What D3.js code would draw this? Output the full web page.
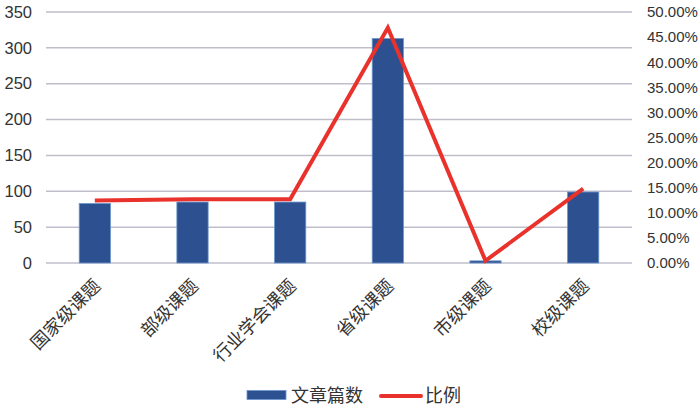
<!DOCTYPE html>
<html><head><meta charset="utf-8">
<script src="https://cdn.jsdelivr.net/npm/d3@7/dist/d3.min.js"></script>
<style>body{margin:0;background:#fff}svg{display:block}</style>
</head><body><svg id="c" width="700" height="409"></svg>
<script>
const categories = ["国家级课题","部级课题","行业学会课题","省级课题","市级课题","校级课题"];
const articleCounts = [83, 85, 85, 313, 3, 99];
const ratios = [0.1243, 0.1272, 0.1272, 0.4686, 0.0045, 0.1482];
const leftTicks = [0,50,100,150,200,250,300,350];
const rightTicks = [0,0.05,0.10,0.15,0.20,0.25,0.30,0.35,0.40,0.45,0.50];
const legendLabels = ["文章篇数","比例"];

const svg = d3.select("#c");
const L = 46, R = 632, T = 12, B = 263;
const font = "'Liberation Sans', Arial, sans-serif";
const cjk = "'Noto Sans CJK SC', sans-serif";

const x = d3.scaleBand().domain(categories).range([L, R]).paddingInner(0.68).paddingOuter(0.34);
const yL = d3.scaleLinear().domain([0,350]).range([B, T]);
const yR = d3.scaleLinear().domain([0,0.5]).range([B, T]);

// gridlines
svg.append("g").selectAll("line").data(leftTicks).join("line")
  .attr("x1", L).attr("x2", R).attr("y1", d=>yL(d)).attr("y2", d=>yL(d))
  .attr("stroke", "#bfbfcc").attr("stroke-width", 1.5);

// left axis
const gl = svg.append("g").attr("transform", `translate(${L},0)`)
  .call(d3.axisLeft(yL).tickValues(leftTicks).tickSize(0).tickPadding(14));
gl.select(".domain").remove();
gl.selectAll("text").attr("font-family", font).attr("font-size", 16.5).attr("fill", "#333");

// right axis
const gr = svg.append("g").attr("transform", `translate(${R},0)`)
  .call(d3.axisRight(yR).tickValues(rightTicks).tickSize(0).tickPadding(15).tickFormat(d=>(d*100).toFixed(2)+"%"));
gr.select(".domain").remove();
gr.selectAll("text").attr("font-family", font).attr("font-size", 15).attr("fill", "#333");

// bars
svg.append("g").selectAll("rect").data(categories).join("rect")
  .attr("x", d=>x(d)).attr("width", x.bandwidth())
  .attr("y", (d,i)=>yL(articleCounts[i])).attr("height", (d,i)=>B - yL(articleCounts[i]))
  .attr("fill", "#2d5090").attr("stroke", "#6a96cc").attr("stroke-width", 0.8);

// x labels
svg.append("g").selectAll("text").data(categories).join("text")
  .attr("transform", d=>`translate(${x(d)+x.bandwidth()/2+7},${B+24}) rotate(-45)`)
  .attr("text-anchor", "end").attr("font-family", cjk).attr("font-size", 18).attr("fill", "#333")
  .text(d=>d);

// line
const line = d3.line().x((d,i)=>x(categories[i])+x.bandwidth()/2).y(d=>yR(d));
svg.append("path").datum(ratios).attr("d", line)
  .attr("fill", "none").attr("stroke", "#e8322b").attr("stroke-width", 4).attr("stroke-linejoin", "miter");

// legend
const lg = svg.append("g");
lg.append("rect").attr("x", 247).attr("y", 390.5).attr("width", 39).attr("height", 9)
  .attr("fill", "#2d5090").attr("stroke", "#6a96cc").attr("stroke-width", 0.8);
lg.append("text").attr("x", 291).attr("y", 402).attr("font-family", cjk).attr("font-size", 18).attr("fill", "#333").text(legendLabels[0]);
lg.append("line").attr("x1", 381).attr("x2", 421).attr("y1", 396).attr("y2", 396)
  .attr("stroke", "#e8322b").attr("stroke-width", 4).attr("stroke-linecap", "round");
lg.append("text").attr("x", 425).attr("y", 402).attr("font-family", cjk).attr("font-size", 18).attr("fill", "#333").text(legendLabels[1]);
</script></body></html>
